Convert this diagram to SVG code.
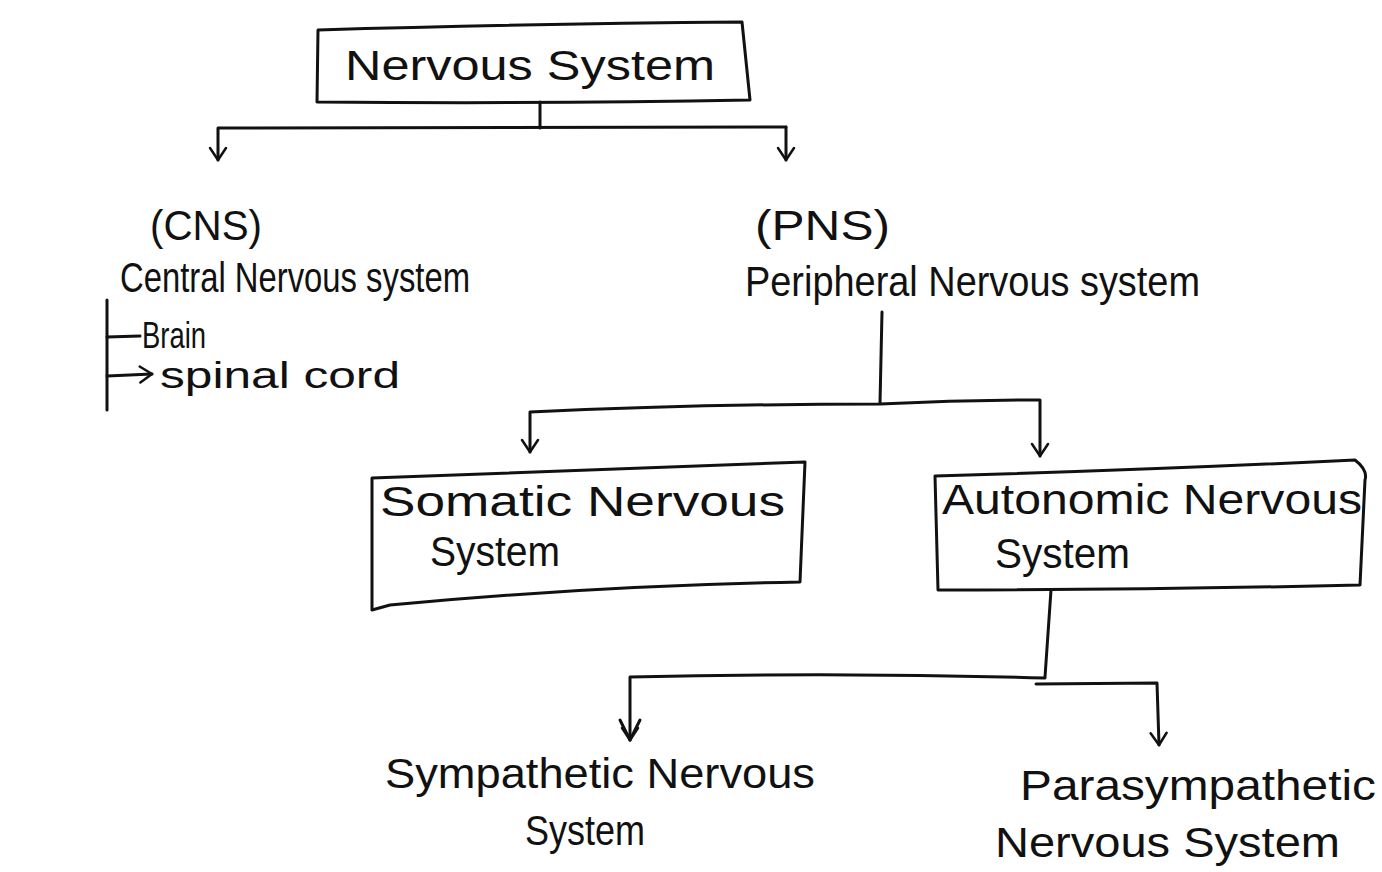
<svg xmlns="http://www.w3.org/2000/svg" width="1382" height="872" viewBox="0 0 1382 872">
  <style>
    .ink { fill: none; stroke: #111; stroke-width: 3; stroke-linecap: round; stroke-linejoin: round; }
    .lbl { font-family: "Liberation Sans", "DejaVu Sans", sans-serif; fill: #111; font-size: 42px; }
    .sm { font-size: 36px; }
  </style>
  <defs>
    <!-- open V arrowhead, drawn pointing along +x -->
    <marker id="vee" viewBox="0 0 20 20" refX="18" refY="10" markerWidth="20" markerHeight="20" markerUnits="userSpaceOnUse" orient="auto-start-reverse">
      <path d="M6 2 L18 10 L6 18" fill="none" stroke="#111" stroke-width="2.5" stroke-linecap="round" stroke-linejoin="round"/>
    </marker>
  </defs>
  <rect width="1382" height="872" fill="#fff"/>

  <g id="connectors">
    <!-- root to CNS / PNS -->
    <path class="ink" d="M540 102 L540 128"/>
    <path class="ink" d="M218 160 L218 128 L786 127" marker-start="url(#vee)"/>
    <path class="ink" d="M786 127 L786 160" marker-end="url(#vee)"/>
    <!-- PNS to somatic / autonomic -->
    <path class="ink" d="M882 312 L880 403"/>
    <path class="ink" d="M530 452 L530 412 Q700 404 880 404 Q960 400 1040 400 L1040 456" marker-start="url(#vee)" marker-end="url(#vee)"/>
    <!-- autonomic to sympathetic / parasympathetic -->
    <path class="ink" d="M1051 590 L1045 677"/>
    <path class="ink" d="M630 740 L630 677 Q840 672 1045 678" marker-start="url(#vee)"/>
    <path class="ink" d="M620 720 L630 740 L640 720"/>
    <path class="ink" d="M1036 684 L1157 683 L1159 745" marker-end="url(#vee)"/>
    <!-- CNS members -->
    <path class="ink" d="M107 300 L107 410"/>
    <path class="ink" d="M107 337 L140 336"/>
    <path class="ink" d="M107 376 L152 374" marker-end="url(#vee)"/>
  </g>

  <g id="nervous-system">
    <path class="ink" d="M318 30 Q520 24 742 22 L750 100 Q540 104 317 102 Z"/>
    <text class="lbl" x="345" y="80" textLength="370" lengthAdjust="spacingAndGlyphs" font-size="44">Nervous System</text>
  </g>

  <g id="cns">
    <text class="lbl" x="150" y="240" textLength="112" lengthAdjust="spacingAndGlyphs">(CNS)</text>
    <text class="lbl" x="120" y="292" textLength="350" lengthAdjust="spacingAndGlyphs">Central Nervous system</text>
    <text class="lbl sm" x="142" y="348" textLength="64" lengthAdjust="spacingAndGlyphs">Brain</text>
    <text class="lbl sm" x="160" y="388" textLength="240" lengthAdjust="spacingAndGlyphs">spinal cord</text>
  </g>

  <g id="pns">
    <text class="lbl" x="755" y="240" textLength="135" lengthAdjust="spacingAndGlyphs">(PNS)</text>
    <text class="lbl" x="745" y="296" textLength="455" lengthAdjust="spacingAndGlyphs">Peripheral Nervous system</text>
  </g>

  <g id="somatic">
    <path class="ink" d="M372 478 Q590 470 805 462 L800 582 Q590 586 390 605 L372 610 Z"/>
    <text class="lbl" x="380" y="516" textLength="405" lengthAdjust="spacingAndGlyphs">Somatic Nervous</text>
    <text class="lbl" x="430" y="566" textLength="130" lengthAdjust="spacingAndGlyphs">System</text>
  </g>

  <g id="autonomic">
    <path class="ink" d="M935 476 Q1150 470 1355 460 Q1368 470 1365 480 L1360 585 Q1150 590 938 590 L935 476"/>
    <text class="lbl" x="942" y="514" textLength="420" lengthAdjust="spacingAndGlyphs">Autonomic Nervous</text>
    <text class="lbl" x="995" y="568" textLength="135" lengthAdjust="spacingAndGlyphs">System</text>
  </g>

  <g id="sympathetic">
    <text class="lbl" x="385" y="788" textLength="430" lengthAdjust="spacingAndGlyphs">Sympathetic Nervous</text>
    <text class="lbl" x="525" y="845" textLength="120" lengthAdjust="spacingAndGlyphs">System</text>
  </g>

  <g id="parasympathetic">
    <text class="lbl" x="1020" y="800" textLength="356" lengthAdjust="spacingAndGlyphs">Parasympathetic</text>
    <text class="lbl" x="995" y="857" textLength="345" lengthAdjust="spacingAndGlyphs">Nervous System</text>
  </g>
</svg>
